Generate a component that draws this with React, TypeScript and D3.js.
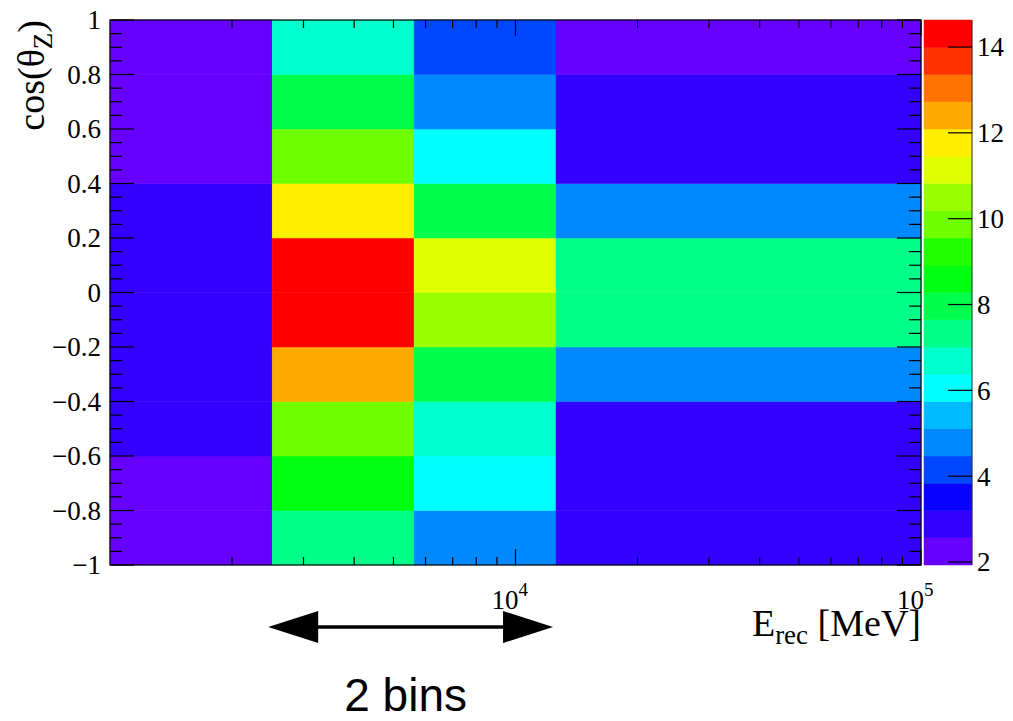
import React from "react";
import * as d3 from "d3";

// ---- data ----
const xEdges = [1000, 2512, 5623, 12589, 100000];
const yEdges = [-1, -0.8, -0.6, -0.4, -0.2, 0, 0.2, 0.4, 0.6, 0.8, 1];
// values per energy bin, listed from cos = -1 (bottom) to cos = 1 (top)
const col0 = [2.1, 2.05, 2.9, 2.9, 2.9, 2.9, 2.9, 2.1, 2.0, 1.95];
const col1 = [7.3, 8.6, 9.9, 12.4, 14.4, 14.63, 11.8, 10.0, 8.0, 6.7];
const col2 = [4.8, 6.1, 6.7, 8.0, 10.5, 11.1, 8.0, 6.1, 4.8, 4.2];
const col3 = [2.9, 2.9, 2.9, 4.8, 7.3, 7.3, 4.8, 2.9, 2.9, 2.3];
const columns = [col0, col1, col2, col3];
const zMin = 1.93;
const zMax = 14.63;
const palette = [
  "#6600ff", "#3300ff", "#0a00ff", "#0048ff", "#0088ff",
  "#00bbff", "#00ffff", "#00ffcc", "#00ff88", "#00ff4c",
  "#00ff11", "#22ff00", "#70ff00", "#99ff00", "#e0ff00",
  "#ffee00", "#ffaa00", "#ff7300", "#ff3300", "#ff0000",
];
const yTickLabels = [1, 0.8, 0.6, 0.4, 0.2, 0, -0.2, -0.4, -0.6, -0.8, -1];
const zTickLabels = [2, 4, 6, 8, 10, 12, 14];
const xMajor = [10000, 100000];
const xMinor = [2000, 3000, 4000, 5000, 6000, 7000, 8000, 9000, 20000, 30000, 40000, 50000, 60000, 70000, 80000, 90000];

const W = 1013;
const H = 721;
const L = 110, R = 921, T = 20, B = 565;
const serif = "'Liberation Serif', 'Times New Roman', serif";

export default function App() {
  const x = d3.scaleLog().domain([1e3, 1e5]).range([L, R]);
  const y = d3.scaleLinear().domain([-1, 1]).range([B, T]);
  const color = d3.scaleQuantize<string>().domain([zMin, zMax]).range(palette);
  const zs = d3.scaleLinear().domain([zMin, zMax]).range([B, T]);
  const cbL = 924, cbR = 972;

  const cells: any[] = [];
  columns.forEach((col, i) => {
    col.forEach((v, j) => {
      cells.push(
        <rect key={`c${i}-${j}`} x={x(xEdges[i])} y={y(yEdges[j + 1])}
          width={x(xEdges[i + 1]) - x(xEdges[i])} height={y(yEdges[j]) - y(yEdges[j + 1])}
          fill={color(v)} stroke={color(v)} strokeWidth={0.5} />
      );
    });
  });

  const yMinorTicks = d3.range(-1, 1.0001, 0.05).map((v) => +v.toFixed(2));
  const fmt = (v: number) => (v < 0 ? "\u2212" + String(-v) : String(v));

  const bands = palette.map((c, k) => {
    const lo = zMin + ((zMax - zMin) * k) / palette.length;
    const hi = zMin + ((zMax - zMin) * (k + 1)) / palette.length;
    return <rect key={`b${k}`} x={cbL} y={zs(hi)} width={cbR - cbL} height={zs(lo) - zs(hi)} fill={c} stroke={c} strokeWidth={0.5} />;
  });

  const aL = x(xEdges[1]) - 4;
  const aR = x(xEdges[3]) - 3;
  const aY = 627;

  return (
    <svg width={W} height={H} style={{ position: "absolute", left: 0, top: 0, background: "#fff" }}>
      <rect x={0} y={0} width={W} height={H} fill="#fff" />
      {cells}
      {/* frame */}
      <rect x={L} y={T} width={R - L} height={B - T} fill="none" stroke="#000" strokeWidth={1.2} />
      {/* y ticks */}
      {yMinorTicks.map((v) => {
        const major = Math.abs(Math.round(v * 5) - v * 5) < 1e-6;
        const len = major ? 24 : 12;
        return (
          <g key={`yt${v}`}>
            <line x1={L} x2={L + len} y1={y(v)} y2={y(v)} stroke="#000" strokeWidth={1.2} />
            <line x1={R - len} x2={R} y1={y(v)} y2={y(v)} stroke="#000" strokeWidth={1.2} />
          </g>
        );
      })}
      {/* x ticks */}
      {xMinor.map((v) => (
        <g key={`xm${v}`}>
          <line x1={x(v)} x2={x(v)} y1={B} y2={B - 8} stroke="#000" strokeWidth={1.2} />
          <line x1={x(v)} x2={x(v)} y1={T} y2={T + 8} stroke="#000" strokeWidth={1.2} />
        </g>
      ))}
      {xMajor.map((v) => (
        <g key={`xM${v}`}>
          <line x1={x(v)} x2={x(v)} y1={B} y2={B - 16} stroke="#000" strokeWidth={1.2} />
          <line x1={x(v)} x2={x(v)} y1={T} y2={T + 16} stroke="#000" strokeWidth={1.2} />
        </g>
      ))}
      {/* y labels */}
      {yTickLabels.map((v) => (
        <text key={`yl${v}`} x={101} y={y(v)} dy="0.35em" textAnchor="end" fontFamily={serif} fontSize={27} fill="#000">
          {fmt(v)}
        </text>
      ))}
      {/* x labels */}
      {xMajor.map((v) => (
        <text key={`xl${v}`} x={x(v) - 24} y={609} textAnchor="start" fontFamily={serif} fontSize={27} fill="#000">
          10<tspan dy={-13} fontSize={19}>{Math.round(Math.log10(v))}</tspan>
        </text>
      ))}
      {/* y title */}
      <text transform={`translate(44,${T}) rotate(-90)`} textAnchor="end" fontFamily={serif} fontSize={38} fill="#000">
        cos(θ<tspan dy={8} fontSize={27}>Z</tspan><tspan dy={-8}>)</tspan>
      </text>
      {/* x title */}
      <text x={R} y={636} textAnchor="end" fontFamily={serif} fontSize={38} fill="#000">
        E<tspan dy={8} fontSize={27}>rec</tspan><tspan dy={-8}> [MeV]</tspan>
      </text>
      {/* color bar */}
      {bands}
      <line x1={cbR} x2={cbR} y1={T} y2={B} stroke="#333" strokeWidth={1} />
      {zTickLabels.map((v) => (
        <g key={`zt${v}`}>
          <line x1={cbR - 24} x2={cbR} y1={zs(v)} y2={zs(v)} stroke="#000" strokeWidth={1.2} />
          <text x={977} y={zs(v)} dy="0.35em" fontFamily={serif} fontSize={27} fill="#000">{v}</text>
        </g>
      ))}
      {/* arrow */}
      <line x1={aL + 45} x2={aR - 45} y1={aY} y2={aY} stroke="#000" strokeWidth={3.5} />
      <polygon points={`${aL},${aY} ${aL + 50},${aY - 16} ${aL + 50},${aY + 16}`} fill="#000" />
      <polygon points={`${aR},${aY} ${aR - 50},${aY - 16} ${aR - 50},${aY + 16}`} fill="#000" />
      <text x={(aL + aR) / 2 - 5} y={711} textAnchor="middle" fontFamily="'Liberation Sans', Arial, sans-serif" fontSize={46} fill="#000">
        2 bins
      </text>
    </svg>
  );
}
